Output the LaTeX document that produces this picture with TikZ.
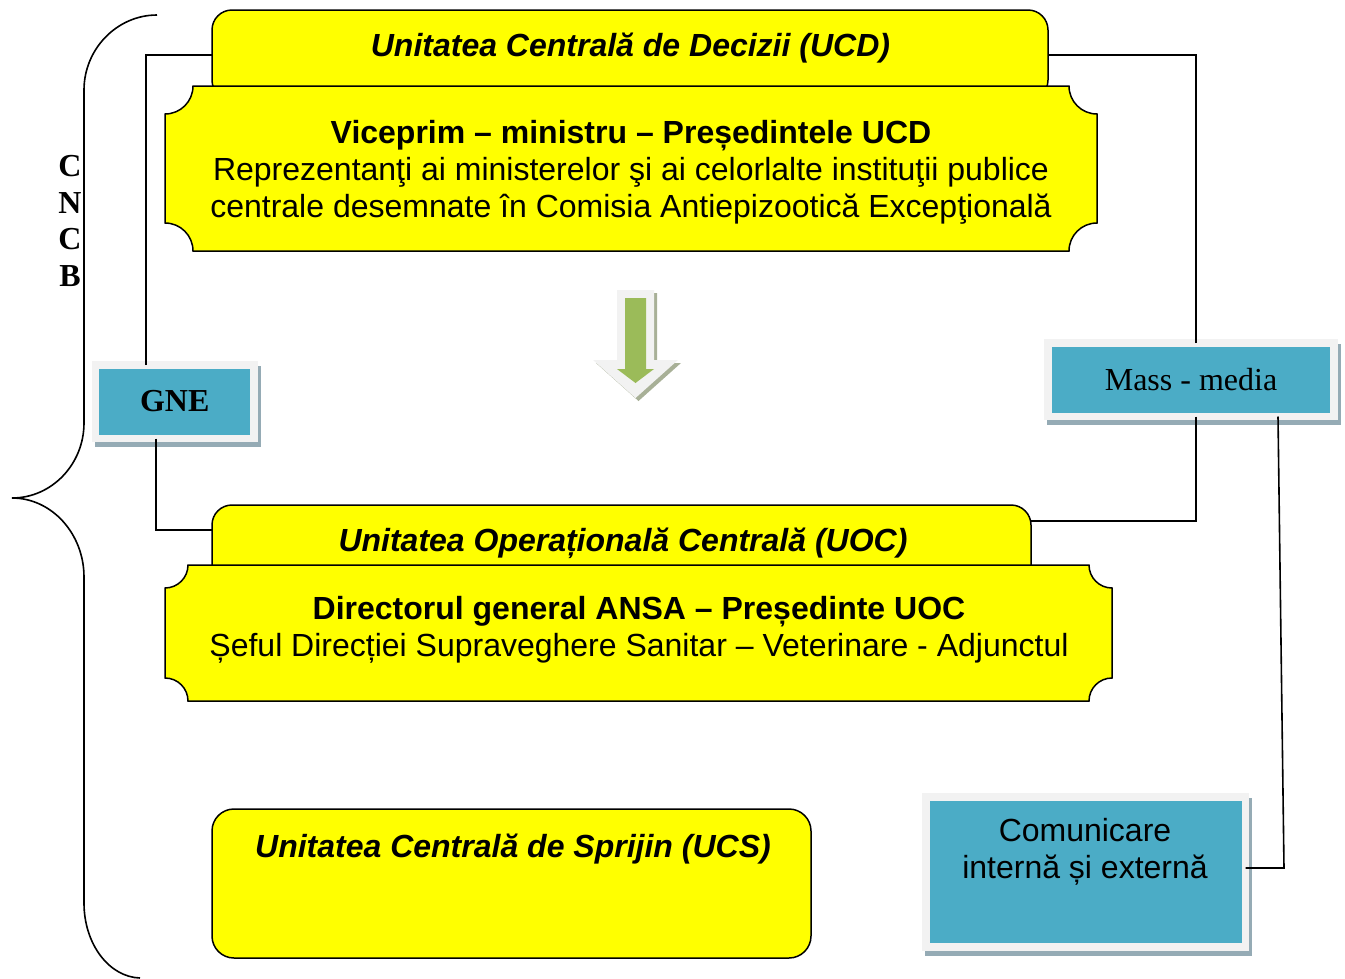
\documentclass[tikz,border=0pt]{standalone}
\usepackage{fontspec}
\setmainfont{Liberation Sans}
\newfontfamily\timesf{Liberation Serif}
\usetikzlibrary{calc}
\definecolor{yel}{HTML}{FFFF00}
\definecolor{cyanF}{HTML}{4BACC6}
\definecolor{frameG}{HTML}{F2F2F2}
\definecolor{shadowC}{HTML}{95ABB5}
\definecolor{arrG}{HTML}{9BBB59}
\definecolor{arrS}{HTML}{A8B097}
\begin{document}
\begin{tikzpicture}[x=1pt,y=-1pt,
  big/.style={font=\fontsize{32}{37}\selectfont},
  tabsty/.style={draw=black, fill=yel, line width=1.5pt, rounded corners=20pt, inner sep=0pt, outer sep=0pt},
  scrollsty/.style={draw=black, fill=yel, line width=1.5pt},
  boxsty/.style={fill=cyanF, draw=frameG, line width=7.5pt, inner sep=0pt, outer sep=0pt,
     preaction={fill=shadowC, draw=shadowC, line width=7.5pt, transform canvas={xshift=3pt,yshift=-5pt}}},
  conn/.style={draw=black, line width=1.6pt},
  bracesty/.style={draw=black, line width=1.6pt},
  hdr/.style={font=\fontsize{32}{37}\selectfont\bfseries\itshape, align=center, inner sep=0pt},
  body/.style={font=\fontsize{32}{37}\selectfont, align=center, inner sep=0pt}
]
\useasboundingbox (0,0) rectangle (1345,978);

% brace
\draw[bracesty] (157,15) .. controls (117,15) and (84,49) .. (84,90) -- (84,423)
   .. controls (84,464) and (52,498) .. (12,498)
   .. controls (52,498) and (84,534) .. (84,577) -- (84,903)
   .. controls (84,944) and (109,977) .. (140,978);
\node[font=\fontsize{32}{36.7}\selectfont\timesf\bfseries, align=center, inner sep=0pt] (cncb) at (70,221) {C\\N\\C\\B};

% UCD
\node[tabsty, minimum width=836pt, minimum height=90pt] (ucdh) at (630,55) {};
\path[scrollsty] (193,86) -- (1069,86) .. controls (1069,101.5) and (1081.5,114) .. (1097,114) -- (1097,223)
  .. controls (1081.5,223) and (1069,235.5) .. (1069,251) -- (193,251)
  .. controls (193,235.5) and (180.5,223) .. (165,223) -- (165,114)
  .. controls (180.5,114) and (193,101.5) .. (193,86) -- cycle;
\node[hdr] (ucdt) at (630.5,48) {Unitatea Centrală de Decizii (UCD)};
\node[body] (ucdb) at (631,172) {\textbf{Viceprim – ministru – Președintele UCD}\\Reprezentanţi ai ministerelor şi ai celorlalte instituţii publice\\centrale desemnate în Comisia Antiepizootică Excepţională};

% arrow
\path[fill=arrS] (620,293) -- (657,293) -- (657,363) -- (681,363) -- (638.5,401) -- (596,363) -- (620,363) -- cycle;
\path[fill=frameG] (617,290) -- (654,290) -- (654,360) -- (678,360) -- (635.5,398) -- (593,360) -- (617,360) -- cycle;
\path[fill=arrG] (625,298) -- (646,298) -- (646,369) -- (654,369) -- (635.5,383) -- (617,369) -- (625,369) -- cycle;

% UOC
\node[tabsty, minimum width=819pt, minimum height=80pt] (uoch) at (621.5,545) {};
\path[scrollsty] (188,565) -- (1089,565) .. controls (1089,577.7) and (1099.3,588) .. (1112,588) -- (1112,678)
  .. controls (1099.3,678) and (1089,688.3) .. (1089,701) -- (188,701)
  .. controls (188,688.3) and (177.7,678) .. (165,678) -- (165,588)
  .. controls (177.7,588) and (188,577.7) .. (188,565) -- cycle;
\node[hdr] (uoct) at (623,543) {Unitatea Operațională Centrală (UOC)};
\node[body] (uocb) at (639,630) {\textbf{Directorul general ANSA – Președinte UOC}\\Șeful Direcției Supraveghere Sanitar – Veterinare - Adjunctul};

% UCS
\node[tabsty, rounded corners=22pt, minimum width=599pt, minimum height=149pt] (ucs) at (511.5,883.5) {};
\node[hdr] (ucst) at (513,849) {Unitatea Centrală de Sprijin (UCS)};

% blue boxes
\node[boxsty, minimum width=158.5pt, minimum height=73.5pt, font=\fontsize{32}{37}\selectfont\timesf\bfseries, text depth=2pt] (gne) at (174.75,401.75) {GNE};
\node[boxsty, minimum width=286pt, minimum height=73.5pt, font=\fontsize{32}{37}\selectfont\timesf] (mm) at (1191,379.75) {Mass - media};
\node[boxsty, minimum width=319.5pt, minimum height=150pt] (com) at (1085.75,872) {};
\node[body] (comt) at (1085,852) {Comunicare\\internă și externă};

% connectors
\draw[conn] ($(gne.north)+(-28.75,0)$) |- (ucdh.west);
\draw[conn] ($(gne.south)+(-18.75,0)$) |- ($(uoch.west)+(0,-15)$);
\draw[conn] ($(mm.north)+(5,0)$) |- (ucdh.east);
\draw[conn] ($(mm.south)+(5,0)$) |- ($(uoch.east)+(0,-24)$);
\coordinate (cbend) at (1284,868);
\draw[conn] ($(mm.south)+(87,0)$) -- (cbend) -- (cbend -| com.east);
\end{tikzpicture}
\end{document}
